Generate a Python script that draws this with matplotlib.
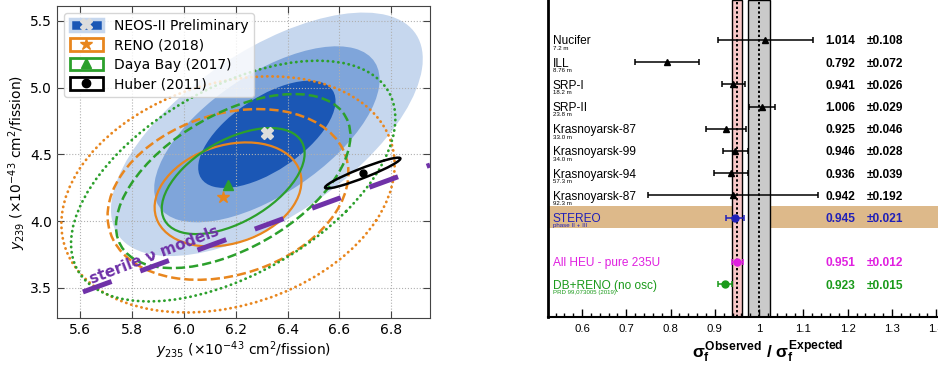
import numpy as np
import matplotlib
matplotlib.use('Agg')
import matplotlib.pyplot as plt
from matplotlib.patches import Ellipse, Patch
from matplotlib.lines import Line2D
from matplotlib.ticker import MultipleLocator, FormatStrFormatter

plt.rcParams['mathtext.fontset'] = 'custom'
plt.rcParams['mathtext.rm'] = 'Liberation Sans:bold'
plt.rcParams['mathtext.it'] = 'Liberation Sans:bold'
plt.rcParams['mathtext.bf'] = 'Liberation Sans:bold'
plt.rcParams['mathtext.sf'] = 'Liberation Sans:bold'

# ---- left panel: fission yields (centre, sigma_x, sigma_y, correlation) ----
neos_fit = [6.32, 4.65, 0.175, 0.265, 0.62]
reno_fit = [6.17, 4.20, 0.187, 0.257, 0.25]
dyb_fit = [6.19, 4.30, 0.182, 0.262, 0.52]
huber_fit = [6.69, 4.36, 0.096, 0.076, 0.94]
neos_best = [6.32, 4.66]
reno_best = [6.15, 4.18]
dyb_best = [6.17, 4.27]
huber_best = [6.69, 4.36]
k_levels = [1.515, 2.486, 3.439]  # 68.3 / 95.4 / 99.7 % for 2 dof
sterile_x = [5.61, 6.95]
sterile_y = [3.47, 4.42]

# ---- right panel: ratio of observed to expected ----
names = ['Nucifer', 'ILL', 'SRP-I', 'SRP-II', 'Krasnoyarsk-87', 'Krasnoyarsk-99',
         'Krasnoyarsk-94', 'Krasnoyarsk-87', 'STEREO', 'All HEU - pure 235U', 'DB+RENO (no osc)']
subs = ['7.2 m', '8.76 m', '18.2 m', '23.8 m', '33.0 m', '34.0 m', '57.3 m', '92.3 m',
        'phase II + III', '', 'PRD 99,073005 (2019)']
ratio = [1.014, 0.792, 0.941, 1.006, 0.925, 0.946, 0.936, 0.942, 0.945, 0.951, 0.923]
ratio_err = [0.108, 0.072, 0.026, 0.029, 0.046, 0.028, 0.039, 0.192, 0.021, 0.012, 0.015]
rows = [0, 1, 2, 3, 4, 5, 6, 7, 8, 10, 11]
world_avg = [0.950, 0.0115]
model = [1.0, 0.025]

neos_dark, neos_mid, neos_light = '#1b57b5', '#7fa5da', '#c6d7ee'
orange, green, purple = '#e8861e', '#2ca02c', '#6f32a8'
row_colors = ['black'] * 8 + ['#2020b8', '#e020e0', '#1a9a1a']
row_markers = ['^'] * 8 + ['o', 'o', 'o']


def cov_ellipse(ax, fit, k, **kw):
    cx, cy, sx, sy, rho = fit
    cov = np.array([[sx * sx, rho * sx * sy], [rho * sx * sy, sy * sy]])
    vals, vecs = np.linalg.eigh(cov)
    angle = np.degrees(np.arctan2(vecs[1, 1], vecs[0, 1]))
    e = Ellipse((cx, cy), 2 * k * np.sqrt(vals[1]), 2 * k * np.sqrt(vals[0]),
                angle=angle, **kw)
    ax.add_patch(e)


fig = plt.figure(figsize=(9.38, 3.67), dpi=100)
ax1 = fig.add_axes([0.0608, 0.1335, 0.3977, 0.850])

for k, c in zip(k_levels[::-1], [neos_light, neos_mid, neos_dark]):
    cov_ellipse(ax1, neos_fit, k, facecolor=c, edgecolor='none', zorder=1)

dotted = (0, (0.1, 1.8))
for fit, c in [(reno_fit, orange), (dyb_fit, green)]:
    cov_ellipse(ax1, fit, k_levels[0], fill=False, edgecolor=c, lw=1.6, zorder=3)
    cov_ellipse(ax1, fit, k_levels[1], fill=False, edgecolor=c, lw=1.8, ls='--', zorder=3)
    cov_ellipse(ax1, fit, k_levels[2], fill=False, edgecolor=c, lw=2.0, ls=dotted,
                capstyle='round', zorder=3)
cov_ellipse(ax1, huber_fit, k_levels[0], fill=False, edgecolor='black', lw=1.8, zorder=3)

ax1.plot(sterile_x, sterile_y, color=purple, lw=3.6, ls=(0, (6.1, 6.1)), zorder=4)
ax1.text(5.645, 3.53, 'sterile ν models', rotation=21, rotation_mode='anchor',
         color=purple, fontsize=11, fontweight='bold', ha='left', va='baseline', zorder=4)

ax1.plot(*neos_best, marker='X', color='#dcdcdc', ms=8, ls='', zorder=5)
ax1.plot(*reno_best, marker='*', color=orange, ms=9, ls='', zorder=5)
ax1.plot(*dyb_best, marker='^', color=green, ms=7, ls='', zorder=5)
ax1.plot(*huber_best, marker='o', color='black', ms=5, ls='', zorder=5)

ax1.set_xlim(5.51, 6.95)
ax1.set_ylim(3.275, 5.61)
ax1.xaxis.set_major_locator(MultipleLocator(0.2))
ax1.yaxis.set_major_locator(MultipleLocator(0.5))
ax1.set_axisbelow(False)
ax1.grid(True, ls=':', color='#b0b0b0', lw=0.8, zorder=2)
ax1.tick_params(direction='in', top=True, right=True, length=5, labelsize=10,
                color='#444444')
for s in ax1.spines.values():
    s.set_color('#444444')
ax1.set_xlabel(r'$y_{235}$ ($\times10^{-43}$ cm$^2$/fission)', fontsize=10,
               math_fontfamily='dejavusans', labelpad=2)
ax1.set_ylabel(r'$y_{239}$ ($\times10^{-43}$ cm$^2$/fission)', fontsize=10,
               math_fontfamily='dejavusans', labelpad=2)

handles = [
    (Patch(facecolor=neos_dark, edgecolor=neos_light, lw=2.5),
     Line2D([], [], marker='X', color='#dcdcdc', ls='', ms=8)),
    (Patch(facecolor='white', edgecolor=orange, lw=2),
     Line2D([], [], marker='*', color=orange, ls='', ms=9)),
    (Patch(facecolor='white', edgecolor=green, lw=2),
     Line2D([], [], marker='^', color=green, ls='', ms=7)),
    (Patch(facecolor='white', edgecolor='black', lw=2),
     Line2D([], [], marker='o', color='black', ls='', ms=6)),
]
labels = ['NEOS-II Preliminary', 'RENO (2018)', 'Daya Bay (2017)', 'Huber (2011)']
leg = ax1.legend(handles, labels, loc='upper left', fontsize=10, handlelength=2.4,
                 handleheight=1.0, labelspacing=0.4, borderpad=0.4,
                 handletextpad=0.8, framealpha=0.8)
leg.set_zorder(6)

# ---- right panel ----
ax2 = fig.add_axes([0.5842, 0.1362, 0.4158, 0.8638])
ax2.set_xlim(0.523, 1.404)
ax2.set_ylim(12.48, -1.8)

ax2.axhspan(8 - 0.5, 8 + 0.48, color='#ddb98a', lw=0, zorder=0.5)
ax2.axvspan(world_avg[0] - world_avg[1], world_avg[0] + world_avg[1],
            facecolor='#f8c8c8', edgecolor='black', lw=1, zorder=1)
ax2.axvspan(world_avg[0] + world_avg[1], model[0] - model[1],
            facecolor='white', lw=0, zorder=0.9)
ax2.axvspan(model[0] - model[1], model[0] + model[1],
            facecolor='#cacaca', edgecolor='black', lw=1, zorder=1)
ax2.axvline(world_avg[0], color='black', ls=(0, (1.2, 1.2)), lw=1.4, zorder=1.5)
ax2.axvline(model[0], color='black', ls=(0, (1.2, 1.2)), lw=1.4, zorder=1.5)

for i in range(len(names)):
    r = rows[i]
    c = row_colors[i]
    ax2.errorbar(ratio[i], r, xerr=ratio_err[i], fmt=row_markers[i], color=c, ms=5,
                 capsize=2.2, elinewidth=1.1, capthick=1.1, zorder=3)
    ax2.text(0.534, r + 0.2, names[i], color=c, fontsize=8.6,
             family='Liberation Sans', va='baseline', ha='left')
    if subs[i]:
        ax2.text(0.534, r + 0.44, subs[i], color=c, fontsize=4.4,
                 family='Liberation Sans', va='baseline', ha='left')
    ax2.text(1.149, r + 0.2, '%.3f' % ratio[i], color=c, fontsize=8.6,
             fontweight='bold', family='Liberation Sans', va='baseline')
    ax2.text(1.244, r + 0.2, '±%.3f' % ratio_err[i], color=c, fontsize=8.6,
             fontweight='bold', family='Liberation Sans', va='baseline')

ax2.xaxis.set_major_locator(MultipleLocator(0.1))
ax2.xaxis.set_minor_locator(MultipleLocator(0.02))
ax2.xaxis.set_major_formatter(FormatStrFormatter('%g'))
ax2.tick_params(axis='x', which='major', direction='in', length=6, width=1,
                labelsize=8.2, labelfontfamily='Liberation Sans', pad=5)
ax2.tick_params(axis='x', which='minor', direction='in', length=3, width=1)
ax2.tick_params(axis='y', left=False, labelleft=False)
ax2.spines['top'].set_visible(False)
ax2.spines['right'].set_visible(False)
ax2.spines['left'].set_linewidth(2)
ax2.spines['bottom'].set_linewidth(1.5)

fig.text(768 / 938, 1 - 352 / 367,
         r'$\sigma_{f}^{Observed}$ / $\sigma_{f}^{Expected}$',
         ha='center', va='center', fontsize=12.5, fontweight='bold',
         family='Liberation Sans')

fig.savefig('out.png', dpi=100)
